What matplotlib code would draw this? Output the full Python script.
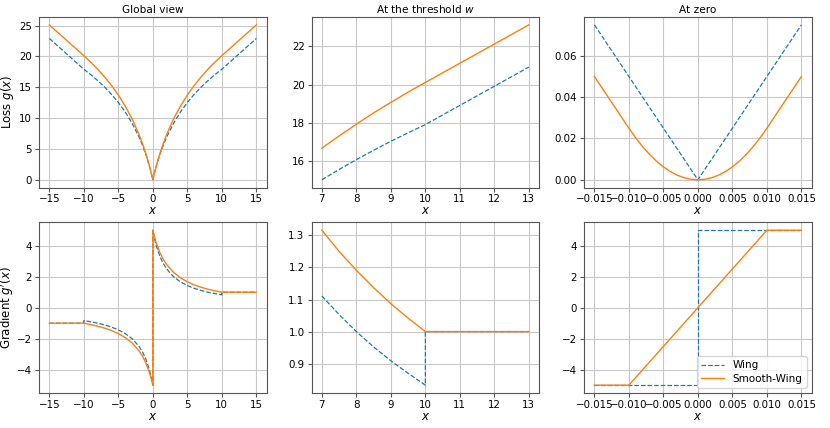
import numpy as np
import matplotlib
matplotlib.use("Agg")
import matplotlib.pyplot as plt

# values (positive half, curves are symmetric)
x_half = [0, 0.25, 0.5, 1, 1.5, 2, 3, 4, 5, 6, 7, 8, 9, 10, 11, 12, 13, 14, 15]
wing_loss_half = [0, 1.18, 2.23, 4.06, 5.60, 6.93, 9.16, 10.99, 12.53, 13.86,
                  15.04, 16.09, 17.05, 17.92, 18.92, 19.92, 20.92, 21.92, 22.92]
smooth_loss_half = [0, 1.17, 2.26, 4.19, 5.87, 7.34, 9.86, 11.95, 13.74, 15.30,
                    16.69, 17.94, 19.08, 20.12, 21.12, 22.12, 23.12, 24.12, 25.12]

# gradient, positive half (jump of the wing curve at x = 10)
xg_wing_half = [0, 0.25, 0.5, 1, 1.5, 2, 3, 4, 5, 6, 7, 8, 9, 10, 10, 15]
wing_grad_half = [5.0, 4.44, 4.0, 3.33, 2.86, 2.5, 2.0, 1.67, 1.43, 1.25,
                  1.11, 1.0, 0.91, 0.83, 1.0, 1.0]
xg_smooth_half = [0.01, 0.25, 0.5, 1, 1.5, 2, 3, 4, 5, 6, 7, 8, 9, 10, 15]
smooth_grad_half = [5.0, 4.56, 4.18, 3.58, 3.13, 2.78, 2.28, 1.93, 1.67, 1.47,
                    1.32, 1.19, 1.09, 1.0, 1.0]

# around the threshold w
x_thr_wing = [7, 7.5, 8, 8.5, 9, 9.5, 10, 13]
wing_loss_thr = [15.04, 15.58, 16.09, 16.58, 17.05, 17.49, 17.92, 20.92]
x_thr_smooth = [7, 7.5, 8, 8.5, 9, 9.5, 10, 13]
smooth_loss_thr = [16.69, 17.33, 17.94, 18.53, 19.08, 19.61, 20.12, 23.12]
xg_thr_wing = [7, 7.5, 8, 8.5, 9, 9.5, 10, 10, 13]
wing_grad_thr = [1.111, 1.053, 1.0, 0.952, 0.909, 0.870, 0.833, 1.0, 1.0]
xg_thr_smooth = [7, 7.5, 8, 8.5, 9, 9.5, 10, 13]
smooth_grad_thr = [1.316, 1.250, 1.191, 1.137, 1.087, 1.042, 1.0, 1.0]

# around zero
x_zero_wing = [-0.015, 0, 0.015]
wing_loss_zero = [0.075, 0, 0.075]
x_zero_smooth = [-0.015, -0.01, -0.009, -0.008, -0.007, -0.006, -0.005, -0.004,
                 -0.003, -0.002, -0.001, 0, 0.001, 0.002, 0.003, 0.004, 0.005,
                 0.006, 0.007, 0.008, 0.009, 0.01, 0.015]
smooth_loss_zero = [0.05, 0.025, 0.02025, 0.016, 0.01225, 0.009, 0.00625, 0.004,
                    0.00225, 0.001, 0.00025, 0, 0.00025, 0.001, 0.00225, 0.004,
                    0.00625, 0.009, 0.01225, 0.016, 0.02025, 0.025, 0.05]
xg_zero_wing = [-0.015, 0, 0, 0.015]
wing_grad_zero = [-5, -5, 5, 5]
xg_zero_smooth = [-0.015, -0.01, 0.01, 0.015]
smooth_grad_zero = [-5, -5, 5, 5]


def mirror_even(x, y):
    x = np.asarray(x, float)
    y = np.asarray(y, float)
    return np.concatenate([-x[::-1], x]), np.concatenate([y[::-1], y])


def mirror_odd(x, y):
    x = np.asarray(x, float)
    y = np.asarray(y, float)
    return np.concatenate([-x[::-1], x]), np.concatenate([-y[::-1], y])


plt.rcParams["font.family"] = "DejaVu Sans"
plt.rcParams["axes.edgecolor"] = "#555555"
plt.rcParams["xtick.labelsize"] = 7.4
plt.rcParams["ytick.labelsize"] = 7.4

fig, axes = plt.subplots(2, 3, figsize=(8.3, 4.28), dpi=100)
fig.subplots_adjust(left=0.047, right=0.978, top=0.96, bottom=0.082,
                    wspace=0.197, hspace=0.205)

wing_style = dict(color="tab:blue", linestyle="--", linewidth=0.9, label="Wing")
smooth_style = dict(color="tab:orange", linestyle="-", linewidth=1.0, label="Smooth-Wing")

# loss row
xw, yw = mirror_even(x_half, wing_loss_half)
xs, ys = mirror_even(x_half, smooth_loss_half)
axes[0, 0].plot(xw, yw, **wing_style)
axes[0, 0].plot(xs, ys, **smooth_style)
axes[0, 1].plot(x_thr_wing, wing_loss_thr, **wing_style)
axes[0, 1].plot(x_thr_smooth, smooth_loss_thr, **smooth_style)
axes[0, 2].plot(x_zero_wing, wing_loss_zero, **wing_style)
axes[0, 2].plot(x_zero_smooth, smooth_loss_zero, **smooth_style)

# gradient row
xw, yw = mirror_odd(xg_wing_half, wing_grad_half)
xs, ys = mirror_odd(xg_smooth_half, smooth_grad_half)
axes[1, 0].plot(xw, yw, **wing_style)
axes[1, 0].plot(xs, ys, **smooth_style)
axes[1, 1].plot(xg_thr_wing, wing_grad_thr, **wing_style)
axes[1, 1].plot(xg_thr_smooth, smooth_grad_thr, **smooth_style)
axes[1, 2].plot(xg_zero_wing, wing_grad_zero, **wing_style)
axes[1, 2].plot(xg_zero_smooth, smooth_grad_zero, **smooth_style)

titles = ["Global view", "At the threshold $w$", "At zero"]
for j, t in enumerate(titles):
    axes[0, j].set_title(t, fontsize=7.6, pad=3)

for ax in axes.flat:
    ax.grid(True, color="#c8c8c8", linewidth=0.8)
    ax.set_axisbelow(True)
    ax.set_xlabel("$x$", fontsize=8.5, labelpad=0)
    ax.tick_params(length=3, pad=2, color="#555555")

axes[0, 0].set_ylabel("Loss $g(x)$", fontsize=8.5)
axes[1, 0].set_ylabel("Gradient $g'(x)$", fontsize=8.5)
axes[0, 0].yaxis.set_label_coords(-0.1, 0.5)
axes[1, 0].yaxis.set_label_coords(-0.1, 0.5)

axes[1, 1].set_xticks([7, 8, 9, 10, 11, 12, 13])
axes[0, 1].set_xticks([7, 8, 9, 10, 11, 12, 13])

axes[1, 2].legend(loc="lower right", fontsize=7.5, handlelength=2.2,
                  borderpad=0.4, labelspacing=0.3)

fig.savefig("out.png", dpi=100)
